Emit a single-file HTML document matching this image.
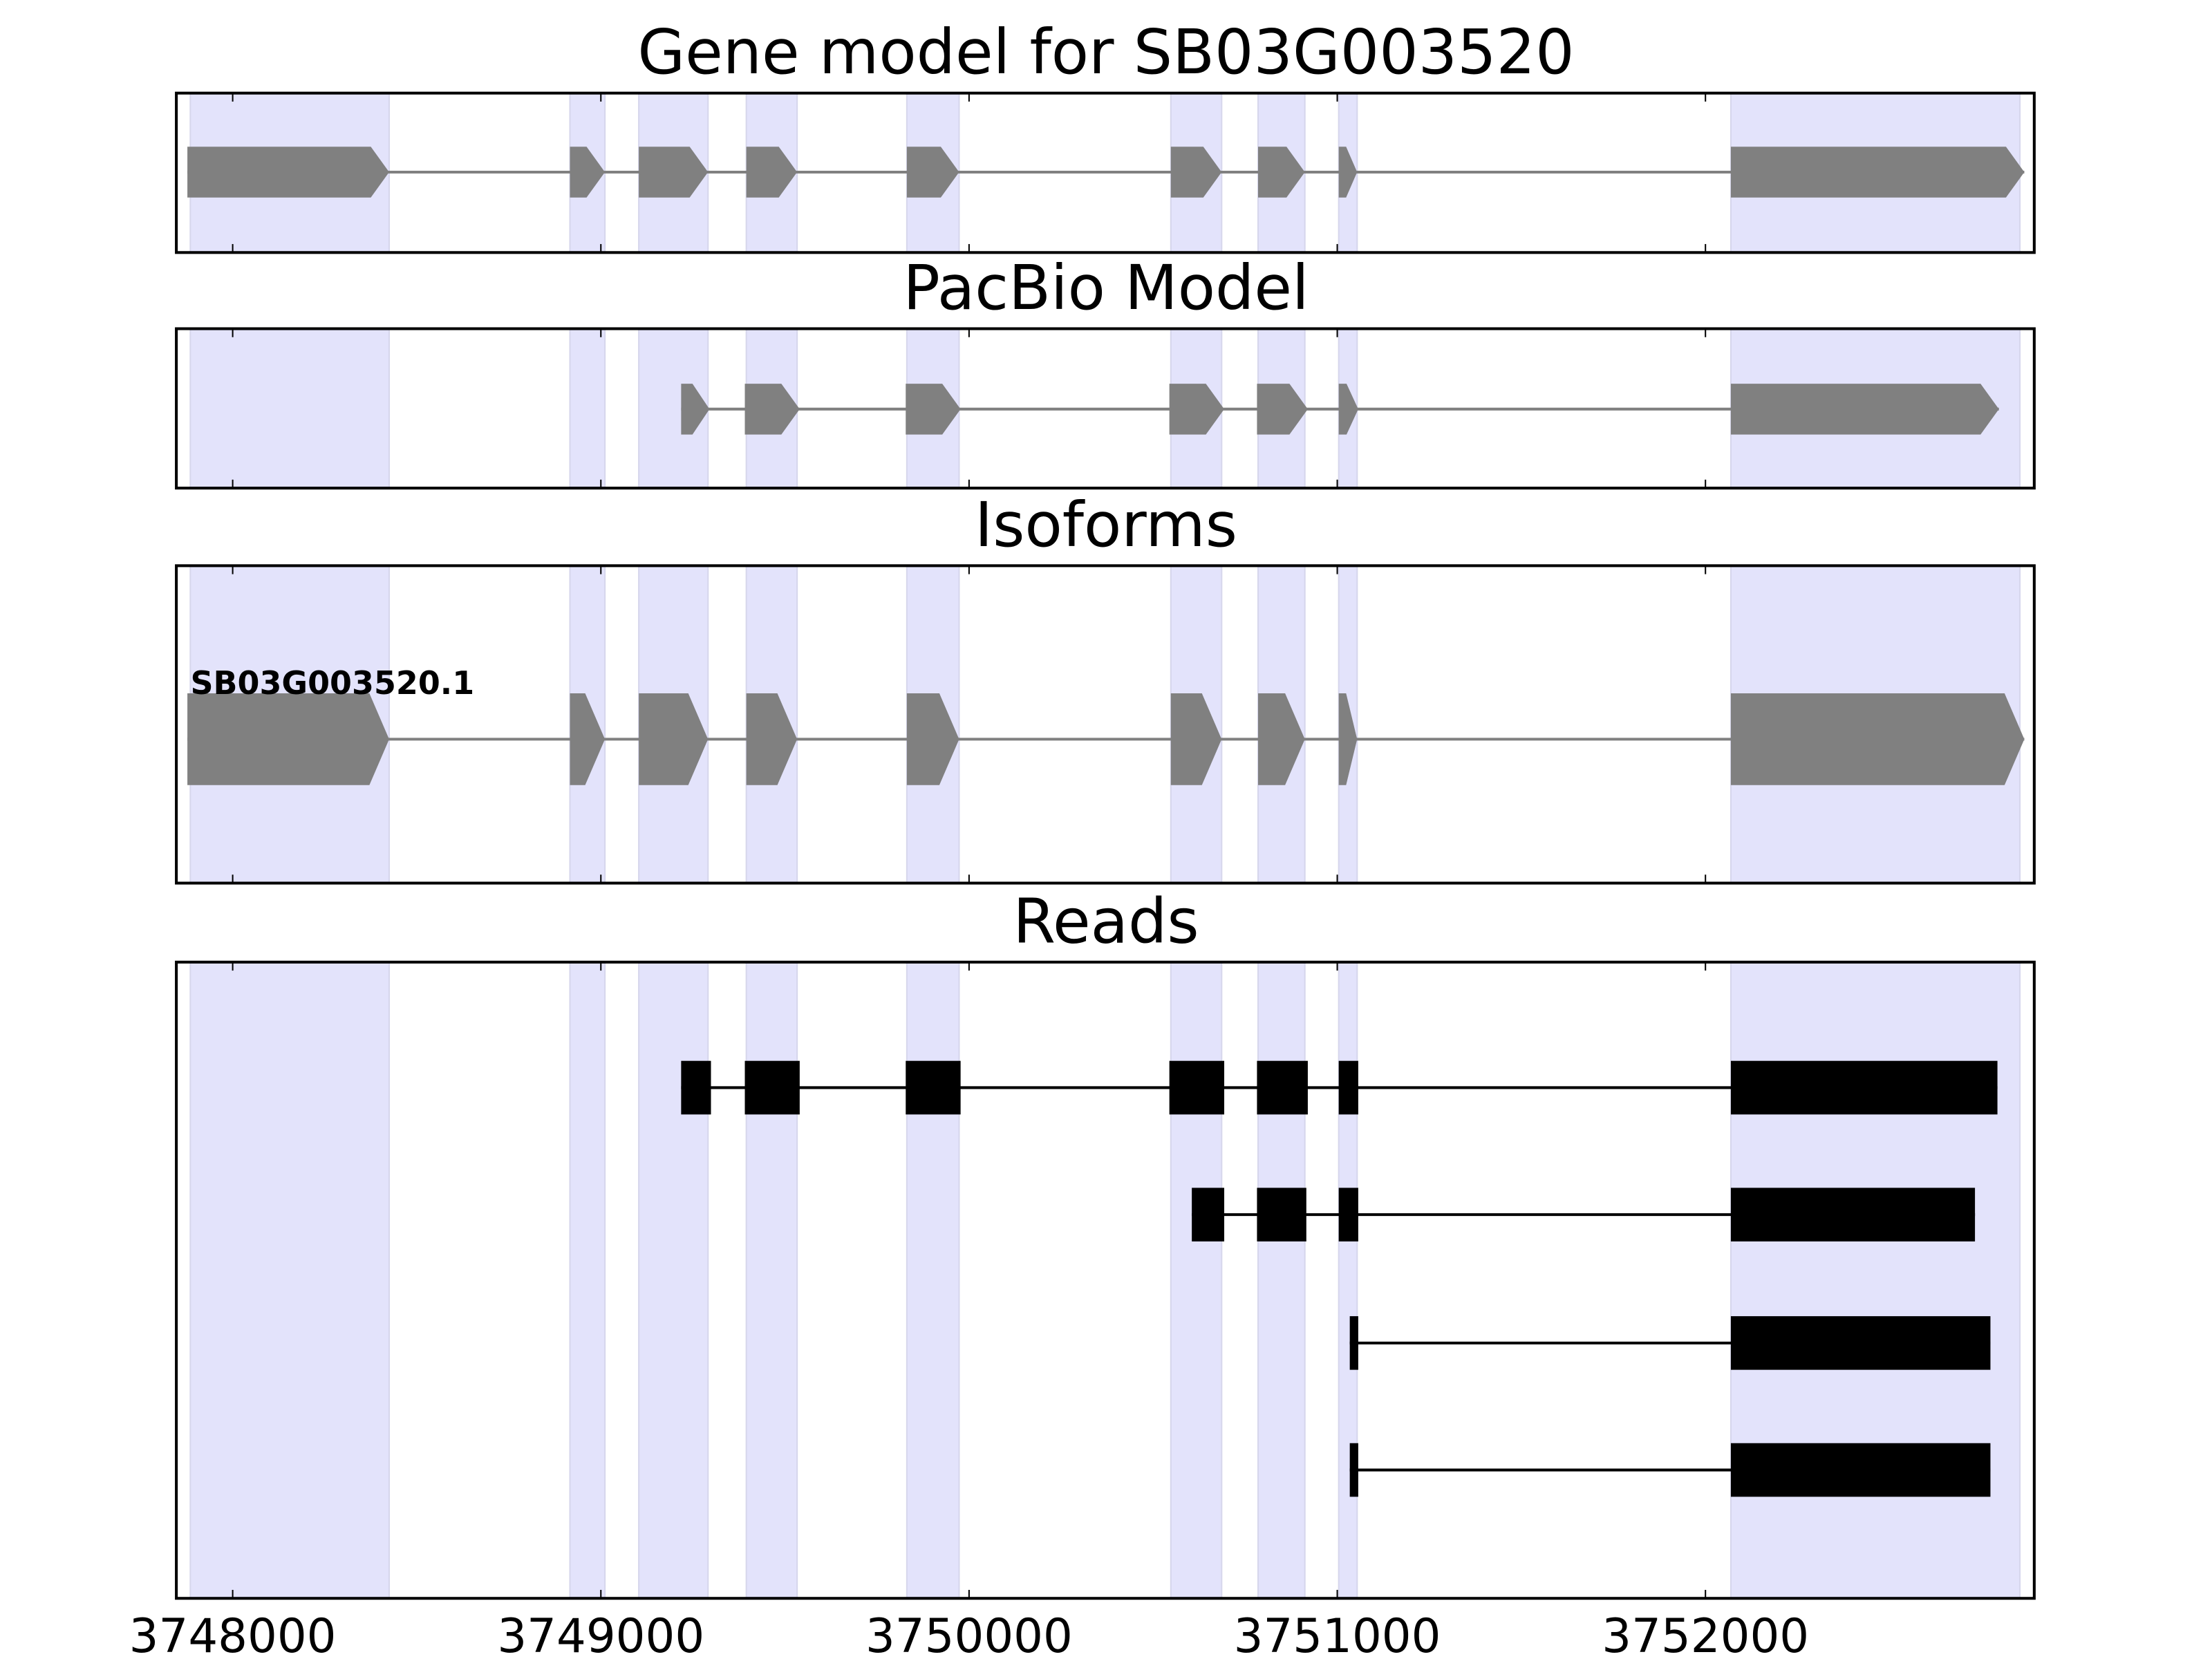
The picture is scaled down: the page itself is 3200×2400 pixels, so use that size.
<!DOCTYPE html>
<html><head><meta charset="utf-8"><style>
html,body{margin:0;padding:0;background:#fff;overflow:hidden}
svg{display:block}
text{font-family:"DejaVu Sans","Liberation Sans",sans-serif}
</style></head><body>
<svg id="chart" width="3200" height="2400" viewBox="0 0 1568 1176" xmlns="http://www.w3.org/2000/svg"></svg>
<script>
const xTicks = [3748000, 3749000, 3750000, 3751000, 3752000];
const tickLabels = ["3748000", "3749000", "3750000", "3751000", "3752000"];
const shadeStarts = [3747885, 3748916, 3749103, 3749395, 3749831, 3750548, 3750785, 3751004, 3752069];
const shadeEnds   = [3748425, 3749011, 3749291, 3749533, 3749973, 3750686, 3750912, 3751054, 3752854];
const geneStarts = [3747877, 3748916, 3749103, 3749395, 3749831, 3750548, 3750785, 3751004, 3752069];
const geneEnds   = [3748425, 3749011, 3749291, 3749533, 3749973, 3750686, 3750912, 3751054, 3752866];
const pacStarts = [3749218, 3749391, 3749828, 3750544, 3750782, 3751004, 3752069];
const pacEnds   = [3749295, 3749540, 3749977, 3750693, 3750920, 3751057, 3752797];
const isoLabel = "SB03G003520.1";
const read1Starts = [3749218, 3749391, 3749828, 3750544, 3750782, 3751004, 3752069];
const read1Ends   = [3749299, 3749540, 3749977, 3750693, 3750920, 3751057, 3752793];
const read2Starts = [3750605, 3750782, 3751004, 3752069];
const read2Ends   = [3750693, 3750916, 3751057, 3752732];
const read3Starts = [3751034, 3752069];
const read3Ends   = [3751057, 3752774];
const read4Starts = [3751034, 3752069];
const read4Ends   = [3751057, 3752774];
const panelTitles = ["Gene model for SB03G003520", "PacBio Model", "Isoforms", "Reads"];

const NS = "http://www.w3.org/2000/svg";
const svg = document.getElementById("chart");
const X0 = 125, X1 = 1442, D0 = 3747847, D1 = 3752893;
function xs(v){ return X0 + (v - D0) / (D1 - D0) * (X1 - X0); }
function mk(tag, attrs, parent){
  const e = document.createElementNS(NS, tag);
  for (const k in attrs) e.setAttribute(k, attrs[k]);
  (parent || svg).appendChild(e);
  return e;
}
const panels = [
  {top:66, bot:179, name:"gene-model-panel"},
  {top:233, bot:346, name:"pacbio-model-panel"},
  {top:401, bot:626, name:"isoforms-panel"},
  {top:682, bot:1133, name:"reads-panel"}
];
panels.forEach((p, pi) => {
  const g = mk("g", {});
  
  
  for (let i = 0; i < shadeStarts.length; i++) {
    const r = mk("rect", {x: xs(shadeStarts[i]), y: p.top, width: xs(shadeEnds[i]) - xs(shadeStarts[i]), height: p.bot - p.top, fill: "#e3e3fb", stroke: "#d6d6ec", "stroke-width": 1}, g);
    
    
  }
  const t = mk("text", {x: 784, y: p.top - 14, "text-anchor": "middle", "font-size": 43.5, fill: "#000"});
  t.textContent = panelTitles[pi];
  
  
  p.g = g;
});

function arrowModel(g, starts, ends, cy, h, tip){
  const ln = mk("line", {x1: xs(starts[0]), x2: xs(ends[ends.length-1]), y1: cy, y2: cy, stroke: "#808080", "stroke-width": 2}, g);
  
  
  for (let i = 0; i < starts.length; i++) {
    const a = xs(starts[i]), b = xs(ends[i]);
    const tp = Math.min(tip, (b - a) * 0.6);
    const pts = [[a, cy-h/2],[b-tp, cy-h/2],[b, cy],[b-tp, cy+h/2],[a, cy+h/2]].map(q=>q.join(",")).join(" ");
    const pg = mk("polygon", {points: pts, fill: "#808080"}, g);
    
    
  }
}
arrowModel(panels[0].g, geneStarts, geneEnds, 122, 36, 13);
arrowModel(panels[1].g, pacStarts, pacEnds, 290, 36, 13);
arrowModel(panels[2].g, geneStarts, geneEnds, 524, 65, 14);
const lab = mk("text", {x: 135, y: 492, "font-size": 22.5, "font-weight": "bold", fill: "#000"}, panels[2].g);
lab.textContent = isoLabel;



function read(g, starts, ends, cy){
  const ln = mk("line", {x1: xs(starts[0]), x2: xs(ends[ends.length-1]), y1: cy, y2: cy, stroke: "#000", "stroke-width": 2}, g);
  
  
  for (let i = 0; i < starts.length; i++) {
    const r = mk("rect", {x: xs(starts[i]), y: cy - 19, width: Math.max(xs(ends[i]) - xs(starts[i]), 1), height: 38, fill: "#000"}, g);
    
    
  }
}
const rg = panels[3].g;
read(rg, read1Starts, read1Ends, 771);
read(rg, read2Starts, read2Ends, 861);
read(rg, read3Starts, read3Ends, 952);
read(rg, read4Starts, read4Ends, 1042);

panels.forEach(p => {
  xTicks.forEach(v => {
    const x = xs(v);
    const t1 = mk("line", {x1: x, x2: x, y1: p.top, y2: p.top + 6, stroke: "#000", "stroke-width": 1});
    
    
    const t2 = mk("line", {x1: x, x2: x, y1: p.bot, y2: p.bot - 6, stroke: "#000", "stroke-width": 1});
    
    
  });
  const fr = mk("rect", {x: X0, y: p.top, width: X1 - X0, height: p.bot - p.top, fill: "none", stroke: "#000", "stroke-width": 2});
  
  
});
xTicks.forEach((v, i) => {
  const t = mk("text", {x: xs(v), y: 1171, "text-anchor": "middle", "font-size": 33, fill: "#000"});
  t.textContent = tickLabels[i];
  
  
});
</script>
</body></html>
